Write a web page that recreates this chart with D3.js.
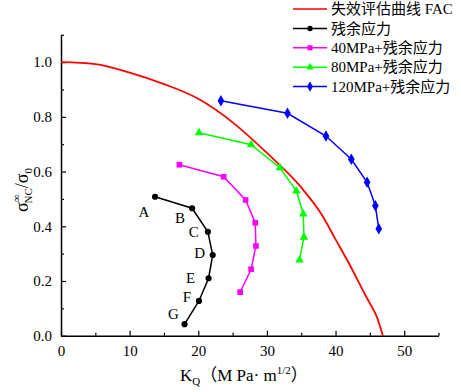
<!DOCTYPE html>
<html>
<head>
<meta charset="utf-8">
<script src="https://cdn.jsdelivr.net/npm/d3@7"></script>
<style>
  body { margin: 0; background: #fff; }
  text { font-family: "Liberation Serif", "Times New Roman", "Noto Sans CJK SC", serif; }
</style>
</head>
<body>
<div id="chart"></div>
<script>
// FAC curve
let facK = [0, 5, 10, 15, 20, 25, 30, 35, 38, 40, 42, 44, 45, 46, 46.9];
let facS = [1.0, 0.993, 0.962, 0.92, 0.866, 0.78, 0.668, 0.542, 0.442, 0.352, 0.262, 0.165, 0.118, 0.07, 0];

// residual stress only
let resK = [13.7, 19.1, 21.4, 22.1, 21.5, 20.1, 18.0];
let resS = [0.508, 0.466, 0.380, 0.295, 0.210, 0.127, 0.042];
let pointNames = ["A", "B", "C", "D", "E", "F", "G"];

// 40 MPa + residual
let k40 = [17.25, 23.7, 26.9, 28.3, 28.4, 27.7, 26.1];
let s40 = [0.625, 0.581, 0.496, 0.413, 0.328, 0.243, 0.159];

// 80 MPa + residual
let k80 = [20.1, 27.7, 31.9, 34.3, 35.3, 35.4, 34.75];
let s80 = [0.742, 0.698, 0.614, 0.529, 0.445, 0.360, 0.277];

// 120 MPa + residual
let k120 = [23.3, 33.0, 38.6, 42.3, 44.6, 45.8, 46.3];
let s120 = [0.859, 0.813, 0.730, 0.645, 0.561, 0.475, 0.391];

let xTicks = [0, 10, 20, 30, 40, 50];
let yTicks = [0.0, 0.2, 0.4, 0.6, 0.8, 1.0];
let legendNames = ["失效评估曲线 FAC", "残余应力", "40MPa+残余应力", "80MPa+残余应力", "120MPa+残余应力"];

let width = 461, height = 392;
let svg = d3.select("#chart").append("svg")
    .attr("width", width)
    .attr("height", height);

let x = d3.scaleLinear().domain([0, 55]).range([61, 438.5]);
let y = d3.scaleLinear().domain([0, 1.1]).range([335.7, 34.8]);

// minor ticks
svg.append("g")
    .attr("transform", "translate(0," + y(0) + ")")
    .call(d3.axisBottom(x).tickValues([5, 15, 25, 35, 45, 55]).tickSize(-3).tickSizeOuter(0).tickFormat(""))
    .call(g => g.select(".domain").remove());
svg.append("g")
    .attr("transform", "translate(" + x(0) + ",0)")
    .call(d3.axisLeft(y).tickValues([0.1, 0.3, 0.5, 0.7, 0.9, 1.1]).tickSize(-3).tickSizeOuter(0).tickFormat(""))
    .call(g => g.select(".domain").remove());

// x axis
let xAxis = svg.append("g")
    .attr("transform", "translate(0," + y(0) + ")")
    .call(d3.axisBottom(x).tickValues(xTicks).tickSize(-5).tickSizeOuter(0).tickPadding(10).tickFormat(d3.format("d")));
xAxis.selectAll("text").attr("font-size", "15px").attr("fill", "#000");

// y axis
let yAxis = svg.append("g")
    .attr("transform", "translate(" + x(0) + ",0)")
    .call(d3.axisLeft(y).tickValues(yTicks).tickSize(-5).tickSizeOuter(0).tickPadding(9).tickFormat(d3.format(".1f")));
yAxis.selectAll("text").attr("font-size", "15px").attr("fill", "#000");

svg.selectAll(".domain").attr("stroke", "#000").attr("stroke-width", 1.5);
svg.selectAll(".tick line").attr("stroke", "#000").attr("stroke-width", 1.2);

// axis titles
let xt = svg.append("text")
    .attr("x", 180).attr("y", 381)
    .attr("font-size", "17px");
xt.append("tspan").text("K");
xt.append("tspan").attr("font-size", "11px").attr("dy", 4).text("Q");
xt.append("tspan").attr("dy", -4).text("（M Pa· m");
xt.append("tspan").attr("font-size", "11px").attr("dy", -7).text("1/2");
xt.append("tspan").attr("dy", 7).text("）");

let yt = svg.append("text")
    .attr("transform", "translate(28,190) rotate(-90)")
    .attr("text-anchor", "middle")
    .attr("font-size", "18px");
yt.append("tspan").text("σ");
yt.append("tspan").attr("font-size", "11px").attr("dy", -8).text("∞");
yt.append("tspan").attr("font-size", "11px").attr("dx", -9).attr("dy", 12).text("NC");
yt.append("tspan").attr("dy", -4).text("/σ");
yt.append("tspan").attr("font-size", "11px").attr("dy", 4).text("0");

// FAC curve
let facData = facK.map((k, i) => [k, facS[i]]);
svg.append("path")
    .datum(facData)
    .attr("fill", "none")
    .attr("stroke", "#ff0000")
    .attr("stroke-width", 1.8)
    .attr("d", d3.line().x(d => x(d[0])).y(d => y(d[1])).curve(d3.curveMonotoneX));

let series = [
    {k: resK, s: resS, color: "#000000", symbol: d3.symbolCircle, size: 30},
    {k: k40, s: s40, color: "#ff00ff", symbol: d3.symbolSquare, size: 32},
    {k: k80, s: s80, color: "#00ff00", symbol: d3.symbolTriangle, size: 32},
    {k: k120, s: s120, color: "#0000ff", symbol: d3.symbolDiamond, size: 38}
];

series.forEach(function(ser) {
    let pts = ser.k.map((k, i) => [k, ser.s[i]]);
    svg.append("path")
        .datum(pts)
        .attr("fill", "none")
        .attr("stroke", ser.color)
        .attr("stroke-width", 1.5)
        .attr("d", d3.line().x(d => x(d[0])).y(d => y(d[1])));
    svg.selectAll(null)
        .data(pts)
        .enter()
        .append("path")
        .attr("transform", d => "translate(" + x(d[0]) + "," + y(d[1]) + ")")
        .attr("d", d3.symbol().type(ser.symbol).size(ser.size))
        .attr("fill", ser.color);
});

// point letters
let labelOffsets = [[-11, 15], [-12, 10], [-14, 0], [-13, -2], [-18, -1], [-12, -4], [-11, -10]];
svg.selectAll(".ptlabel")
    .data(pointNames)
    .enter()
    .append("text")
    .attr("class", "ptlabel")
    .attr("x", (d, i) => x(resK[i]) + labelOffsets[i][0])
    .attr("y", (d, i) => y(resS[i]) + labelOffsets[i][1])
    .attr("dy", "0.35em")
    .attr("text-anchor", "middle")
    .attr("font-size", "15px")
    .text(d => d);

// legend
let legendColors = ["#ff0000", "#000000", "#ff00ff", "#00ff00", "#0000ff"];
let legendSymbols = [null, d3.symbolCircle, d3.symbolSquare, d3.symbolTriangle, d3.symbolDiamond];
let legendSizes = [0, 24, 26, 26, 30];
let legend = svg.append("g");
legendNames.forEach(function(name, i) {
    let ly = 9 + i * 19.4;
    legend.append("line")
        .attr("x1", 293).attr("x2", 327)
        .attr("y1", ly).attr("y2", ly)
        .attr("stroke", legendColors[i])
        .attr("stroke-width", 1.5);
    if (legendSymbols[i]) {
        legend.append("path")
            .attr("transform", "translate(310," + ly + ")")
            .attr("d", d3.symbol().type(legendSymbols[i]).size(legendSizes[i]))
            .attr("fill", legendColors[i]);
    }
    legend.append("text")
        .attr("x", 331).attr("y", ly)
        .attr("dy", "0.35em")
        .attr("font-size", "15px")
        .text(name);
});
</script>
</body>
</html>
